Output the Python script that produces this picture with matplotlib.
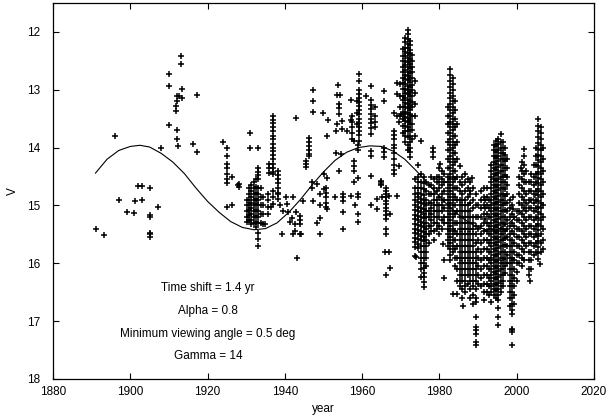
"""Light curve, V magnitude vs year, with the model curve drawn through it.
gnuplot-like look: inward ticks on all four sides, black '+' markers.
"""
import matplotlib
matplotlib.use("Agg")
import matplotlib.pyplot as plt

plt.rcParams.update({
    "font.family": ["Liberation Sans", "DejaVu Sans"],
    "font.size": 8.5,
    "axes.linewidth": 0.9,
    "xtick.direction": "in",
    "ytick.direction": "in",
    "xtick.top": True,
    "ytick.right": True,
    "xtick.major.size": 4,
    "ytick.major.size": 4,
})

# model curve
model_year = [1891, 1894, 1897, 1900, 1902.5, 1905, 1908, 1911, 1914, 1917,
              1920, 1923, 1926, 1929, 1932, 1935, 1938, 1941, 1944, 1947,
              1950, 1953, 1956, 1959, 1962, 1965, 1968, 1971, 1974, 1977,
              1980, 1983, 1986, 1989, 1992, 1995, 1998, 2001, 2004, 2006]
model_v = [14.44, 14.20, 14.05, 13.98, 13.96, 13.99, 14.10, 14.25, 14.45, 14.70,
           14.93, 15.12, 15.28, 15.38, 15.42, 15.40, 15.30, 15.12, 14.90, 14.65,
           14.42, 14.22, 14.08, 14.00, 13.97, 13.98, 14.06, 14.20, 14.40, 14.62,
           14.85, 15.05, 15.22, 15.35, 15.42, 15.42, 15.30, 15.12, 14.90, 14.75]

# isolated observations (year, V)
sparse_obs = [
    # 1890-1920
    (1891.0, 15.41), (1893.2, 15.51), (1896.0, 13.80), (1897.2, 14.91),
    (1899.2, 15.12), (1901.0, 15.13), (1901.1, 14.93), (1903.0, 14.91),
    (1901.9, 14.66), (1903.0, 14.66), (1905.0, 14.69), (1907.1, 15.02),
    (1905.0, 15.17), (1905.0, 15.20), (1905.0, 15.47), (1905.0, 15.50),
    (1905.0, 15.54), (1907.9, 14.00), (1910.1, 13.61), (1912.0, 13.70),
    (1912.0, 13.85), (1912.4, 13.98), (1910.1, 12.73), (1910.1, 12.94),
    (1913.0, 12.41), (1913.0, 12.55), (1913.3, 12.99), (1912.0, 13.10),
    (1912.6, 13.10), (1913.3, 13.14), (1912.0, 13.19), (1911.8, 13.28),
    (1911.8, 13.37), (1917.2, 13.09), (1916.1, 13.93), (1917.2, 14.07),
    # 1920-1945
    (1924.1, 13.91), (1926.2, 14.50), (1927.9, 14.65), (1928.1, 14.68),
    (1931.1, 13.74), (1931.1, 14.00), (1933.1, 14.00), (1924.9, 15.03),
    (1926.2, 14.99), (1928.2, 14.63), (1942.9, 13.48),
    (1935.7, 14.80), (1935.7, 14.90), (1935.7, 15.03), (1935.7, 15.15),
    (1934.9, 15.32), (1933.0, 15.47), (1933.0, 15.58), (1933.0, 15.70),
    (1938.3, 14.80), (1938.3, 14.89), (1940.3, 14.86), (1940.6, 14.98),
    (1942.2, 14.86), (1939.6, 15.09), (1940.9, 15.12), (1941.8, 15.21),
    (1943.0, 15.12), (1941.3, 15.29), (1942.6, 15.32), (1943.9, 15.32),
    (1942.6, 15.44), (1939.2, 15.49), (1942.2, 15.49), (1944.1, 15.49),
    (1943.1, 15.91), (1936.3, 15.03), (1936.9, 14.86), (1938.7, 15.00),
    (1937.0, 14.75), (1937.0, 14.98), (1930.1, 15.29), (1943.9, 15.18),
    (1943.9, 15.25), (1943.9, 15.50),
    # 1944-1970, upper
    (1947.3, 13.01), (1947.3, 13.19), (1947.3, 13.38), (1949.9, 13.41),
    (1951.2, 13.52), (1951.0, 13.80), (1953.8, 12.92), (1953.5, 13.09),
    (1954.2, 13.09), (1954.0, 13.25), (1954.0, 13.32), (1954.0, 13.42),
    (1953.6, 13.60), (1953.3, 13.71), (1954.9, 13.54), (1954.9, 13.68),
    (1956.2, 13.71), (1957.0, 13.18), (1957.0, 13.52), (1959.2, 12.72),
    (1959.2, 12.85), (1960.9, 13.10), (1962.2, 12.94), (1965.7, 13.03),
    (1965.7, 13.19), (1968.3, 13.40), (1969.0, 13.45), (1969.5, 13.55),
    (1970.0, 13.42), (1968.9, 13.08), (1968.9, 12.88), (1975.2, 13.88),
    (1957.9, 13.88), (1950.1, 14.45), (1951.0, 14.52), (1948.4, 14.63),
    (1950.2, 14.71), (1953.2, 14.09), (1954.4, 14.11), (1954.0, 14.40),
    (1957.9, 14.23), (1957.9, 14.32), (1957.9, 14.40), (1958.8, 14.52),
    (1962.2, 14.06), (1962.2, 14.14), (1962.2, 14.49), (1964.8, 14.57),
    (1964.8, 14.63), (1965.2, 14.86), (1965.7, 14.00), (1965.7, 14.08),
    (1965.7, 14.17), (1969.5, 14.32), (1958.8, 13.95), (1958.8, 14.05),
    # 1944-1970, lower
    (1946.9, 14.60), (1946.9, 14.70), (1949.1, 14.80), (1947.4, 14.92),
    (1944.8, 14.92), (1953.0, 14.86), (1955.0, 14.80), (1955.0, 14.86),
    (1955.0, 14.92), (1955.0, 15.11), (1955.0, 15.41), (1957.0, 14.83),
    (1959.0, 14.80), (1959.0, 14.86), (1958.2, 15.00), (1959.0, 15.15),
    (1959.0, 15.29), (1958.0, 14.60), (1962.4, 15.00), (1963.9, 14.89),
    (1963.9, 15.06), (1965.0, 14.60), (1965.0, 14.65), (1967.0, 14.83),
    (1969.1, 14.83), (1967.2, 15.15), (1966.2, 15.41), (1966.2, 15.50),
    (1966.0, 15.81), (1967.0, 15.81), (1967.2, 16.08), (1966.2, 16.20),
    (1948.2, 15.31), (1949.1, 15.21), (1949.1, 15.50), (1949.1, 15.00),
    (1950.8, 15.06),
    # 1970-2007, stragglers
    (1978.4, 14.00), (1978.4, 14.08), (1978.4, 14.17), (1980.2, 14.29),
    (1985.3, 14.32), (1987.9, 14.75), (1988.3, 14.52), (1970.7, 13.42),
    (1973.9, 15.89), (1981.0, 15.67), (1986.2, 16.73), (1991.8, 14.90),
    (1991.8, 15.05), (1991.8, 15.23), (1999.0, 14.86), (1999.0, 15.06),
    (2001.0, 14.35), (2003.5, 16.30), (2006.0, 16.01),
]

# dense observing runs: (year, V values down the column)
dense_strips = [
    # 1930s cluster
    (1924.9, "14.00 14.15 14.28 14.35 14.45 14.55 14.62"),
    (1930.1, "14.90 15.00 15.10 15.20"),
    (1930.7, "14.70 14.80 14.90 15.00 15.08 15.16 15.25"),
    (1931.3, "14.65 14.75 14.85 14.95 15.05 15.15 15.25 15.32"),
    (1931.9, "14.60 14.70 14.80 14.90 15.00 15.10 15.20 15.30"),
    (1932.5, "14.55 14.68 14.78 14.88 14.98 15.08 15.18 15.28 15.38"),
    (1933.1, "14.35 14.42 14.48 14.54 14.70 14.80 14.90 15.00 15.10 15.20 15.30"),
    (1933.7, "14.70 14.85 15.00 15.15 15.30"),
    (1934.4, "14.85 15.00 15.15 15.32"),
    (1935.8, "14.28 14.36 14.44"),
    (1936.8, "13.46 13.52 13.58 13.65 13.72 13.80 13.86 13.93 14.00 14.06 "
             "14.13 14.20 14.28 14.35 14.42 14.46"),
    (1938.2, "14.40 14.47 14.55 14.62 14.70 14.78"),
    # 1944-1970 columns
    (1945.5, "14.23 14.28 14.34"),
    (1946.3, "13.83 13.90 13.97 14.04 14.11 14.14"),
    (1950.6, "14.69 14.78 14.86 14.95 15.03"),
    (1957.5, "13.45 13.55 13.65 13.75 13.85"),
    (1959.2, "13.00 13.07 13.14 13.21 13.28 13.35 13.42 13.50 13.57 13.64 "
             "13.71 13.78 13.88"),
    (1958.7, "13.20 13.40 13.60"),
    (1962.2, "13.18 13.26 13.34 13.42 13.50 13.58 13.66 13.77"),
    (1963.4, "13.30 13.45 13.55 13.65"),
    (1966.2, "14.69 14.75 14.80 14.86 14.92 14.98 15.04 15.10 15.16 15.23"),
    (1968.3, "13.71 13.78 13.85 13.95 14.00 14.10 14.20 14.30 14.38 14.46"),
    # 1970-1973 outburst
    (1969.9, "12.90 13.10 13.30 13.45"),
    (1970.6, "12.30 12.42 12.50 12.61 12.70 12.80 12.88 12.99 13.10 13.18 "
             "13.30 13.41 13.50 13.62 13.75"),
    (1971.2, "12.10 12.18 12.27 12.34 12.42 12.51 12.58 12.66 12.75 12.82 "
             "12.90 12.99 13.06 13.14 13.23 13.30 13.38 13.47 13.54 13.62 "
             "13.71 13.80 13.90"),
    (1971.8, "11.96 12.04 12.12 12.21 12.28 12.36 12.45 12.52 12.60 12.69 "
             "12.76 12.84 12.93 13.00 13.08 13.17 13.24 13.32 13.41 13.48 "
             "13.56 13.65 13.72 13.82 13.95 14.05"),
    (1972.4, "12.15 12.23 12.32 12.39 12.47 12.56 12.63 12.71 12.80 12.87 "
             "12.95 13.04 13.11 13.19 13.28 13.35 13.43 13.52 13.60 13.70 "
             "13.80 13.90 14.00 14.08 14.17"),
    (1973.0, "12.40 12.50 12.61 12.70 12.80 12.91 13.00 13.10 13.21 13.30 "
             "13.45 13.60 13.70 13.85"),
    (1973.6, "12.85 13.05 13.25 13.45 13.80"),
    # 1973-1977
    (1973.8, "14.55 14.70 14.80 14.90 15.00 15.08 15.16 15.24 15.32 15.40 "
             "15.48 15.56 15.64 15.72 15.87"),
    (1974.5, "14.30 14.50 14.60 14.70 14.78 14.86 14.94 15.02 15.10 15.18 "
             "15.26 15.34 15.42 15.50 15.58 15.66 15.74"),
    (1975.2, "14.45 14.60 14.70 14.80 14.88 14.96 15.04 15.12 15.20 15.28 "
             "15.36 15.44 15.52 15.60 15.70 15.80 15.90 16.00 16.10 16.23"),
    (1975.9, "14.50 14.62 14.72 14.82 14.90 14.98 15.06 15.14 15.22 15.30 "
             "15.38 15.46 15.54 15.62 15.70 15.80 15.90 16.00 16.08 16.16 "
             "16.24 16.32 16.41"),
    (1976.6, "14.60 14.75 14.90 15.00 15.10 15.20 15.30 15.40 15.50 15.60 "
             "15.70 15.80 15.90 16.05"),
    (1977.2, "14.65 14.80 14.95 15.10 15.20 15.35 15.50 15.65"),
    # 1977-1981
    (1977.9, "14.50 14.65 14.80 14.95 15.05 15.15 15.25 15.35 15.45"),
    (1978.6, "14.55 14.70 14.80 14.90 15.00 15.10 15.20 15.30 15.45 15.60"),
    (1979.3, "14.50 14.60 14.75 14.90 15.00 15.10 15.20 15.30 15.40"),
    (1980.0, "14.35 14.50 14.60 14.70 14.85 15.00 15.10 15.20 15.35 15.50"),
    (1980.7, "14.40 14.55 14.65 14.80 14.90 15.00 15.10 15.25 15.40"),
    (1981.3, "14.45 14.60 14.75 14.90 15.05 15.20 15.30 15.95 16.25"),
    # 1982-1985 outburst
    (1982.2, "13.30 13.45 13.60 13.75 13.90 14.05 14.20 14.35 14.50 14.60 "
             "14.70 14.80 14.90 15.00 15.10 15.20 15.30 15.40 15.50 15.60 15.70"),
    (1982.8, "12.65 12.75 12.85 12.95 13.05 13.15 13.25 13.35 13.45 13.55 "
             "13.65 13.75 13.85 13.95 14.05 14.15 14.25 14.35 14.45 14.55 "
             "14.65 14.75 14.85 14.95 15.05 15.15 15.25 15.35 15.45 15.55 "
             "15.65 15.75 15.85 15.95"),
    (1983.4, "12.80 12.90 13.00 13.10 13.20 13.30 13.40 13.50 13.60 13.70 "
             "13.80 13.90 14.00 14.10 14.20 14.30 14.40 14.50 14.60 14.70 "
             "14.80 14.90 15.00 15.10 15.20 15.30 15.40 15.50 15.60 15.70 "
             "15.80 16.53"),
    (1984.0, "13.20 13.35 13.50 13.65 13.80 13.95 14.10 14.25 14.40 14.55 "
             "14.70 14.85 15.00 15.15 15.30 15.45 15.60 15.75 15.90 16.05"),
    (1984.6, "13.60 13.90 14.20 14.50 14.70 14.90 15.10 15.30 15.50 15.70 "
             "15.90 16.10 16.30 16.53"),
    # 1985-1990
    (1985.2, "14.60 14.75 14.90 15.00 15.10 15.20 15.30 15.40 15.50 15.60 "
             "15.70 15.80 15.90 16.00 16.10 16.20 16.30 16.40"),
    (1985.9, "14.50 14.65 14.80 14.90 15.00 15.10 15.20 15.30 15.40 15.50 "
             "15.60 15.70 15.80 15.90 16.00 16.10 16.20 16.30 16.45 16.60"),
    (1986.6, "14.45 14.60 14.75 14.90 15.00 15.10 15.20 15.30 15.40 15.50 "
             "15.60 15.70 15.80 15.90 16.00 16.10 16.20 16.30 16.40 16.50"),
    (1987.3, "14.55 14.70 14.85 15.00 15.10 15.20 15.30 15.40 15.50 15.60 "
             "15.70 15.80 15.90 16.00 16.10 16.20 16.35"),
    (1988.0, "14.60 14.80 14.95 15.10 15.20 15.30 15.40 15.50 15.60 15.70 "
             "15.80 15.90 16.00 16.10 16.20 16.30 16.45 16.60"),
    (1988.7, "14.70 14.90 15.05 15.20 15.30 15.40 15.50 15.60 15.70 15.80 "
             "15.90 16.00 16.10 16.20 16.30 16.40 16.55 16.70"),
    (1989.4, "14.80 15.00 15.20 15.35 15.50 15.65 15.80 15.90 16.00 16.10 "
             "16.20 16.30 16.45 16.60 16.67 16.93 17.10 17.16 17.22 17.36 17.42"),
    (1990.1, "15.00 15.20 15.40 15.60 15.75 15.90 16.05 16.20 16.35"),
    # 1990-1993
    (1990.8, "14.75 14.90 15.05 15.20 15.35 15.50 15.65 15.80 15.95 16.10 "
             "16.25 16.40"),
    (1991.5, "14.69 14.85 15.00 15.15 15.30 15.45 15.60 15.75 15.90 16.05 "
             "16.20 16.35 16.50 16.63"),
    (1992.2, "14.70 14.85 15.00 15.15 15.30 15.45 15.60 15.75 15.90 16.05 "
             "16.20 16.35 16.50"),
    (1992.8, "14.90 15.05 15.20 15.35 15.50 15.65 15.80 15.95 16.10 16.25 "
             "16.40 16.55"),
    # 1993-1998 outburst
    (1993.4, "14.30 14.40 14.50 14.60 14.70 14.80 14.90 15.00 15.10 15.20 "
             "15.30 15.40 15.50 15.60 15.70 15.80 15.90 16.00 16.10 16.20 "
             "16.30 16.40 16.50 16.67"),
    (1994.0, "13.95 14.05 14.15 14.25 14.35 14.45 14.55 14.65 14.75 14.85 "
             "14.95 15.05 15.15 15.25 15.35 15.45 15.55 15.65 15.75 15.85 "
             "15.95 16.05 16.15 16.25 16.35 16.45 16.55"),
    (1994.6, "13.88 13.98 14.08 14.18 14.28 14.38 14.48 14.58 14.68 14.78 "
             "14.88 14.98 15.08 15.18 15.28 15.38 15.48 15.58 15.68 15.78 "
             "15.88 15.98 16.08 16.18 16.28 16.38 16.48 16.60"),
    (1995.2, "13.86 13.94 14.04 14.14 14.24 14.34 14.44 14.54 14.64 14.74 "
             "14.84 14.94 15.04 15.14 15.24 15.34 15.44 15.54 15.64 15.74 "
             "15.84 15.94 16.04 16.14 16.24 16.34 16.44 16.54 16.64 16.78 "
             "16.93 17.07"),
    (1995.8, "13.77 13.90 14.00 14.10 14.20 14.30 14.40 14.50 14.60 14.70 "
             "14.80 14.90 15.00 15.10 15.20 15.30 15.40 15.50 15.60 15.70 "
             "15.80 15.90 16.00 16.10 16.20 16.30 16.40 16.50"),
    (1996.4, "13.90 14.00 14.10 14.20 14.30 14.40 14.50 14.60 14.70 14.80 "
             "14.90 15.00 15.10 15.20 15.30 15.40 15.50 15.60 15.70 15.80 "
             "15.90 16.00 16.10 16.20 16.30 16.40"),
    (1997.0, "14.00 14.12 14.24 14.36 14.48 14.60 14.72 14.84 14.96 15.08 "
             "15.20 15.32 15.44 15.56 15.68 15.80 15.92 16.04 16.16"),
    (1997.6, "14.20 14.35 14.50 14.65 14.80 14.95 15.10 15.25 15.40 15.55 "
             "15.70 15.85 16.00"),
    # 1998-2000
    (1998.2, "14.90 15.05 15.20 15.35 15.50 15.60 15.70 15.80 15.90 16.00 "
             "16.10 16.20 16.30 16.40 16.50 16.60 16.73"),
    (1998.8, "15.00 15.15 15.30 15.45 15.60 15.70 15.80 15.90 16.00 16.10 "
             "16.20 16.30 16.40 16.50 16.60 16.70 16.80 16.87 17.13 17.16 "
             "17.19 17.42"),
    (1999.4, "15.20 15.35 15.50 15.65 15.80 15.95 16.10 16.25 16.40 16.55 16.70"),
    (2000.0, "15.10 15.25 15.40 15.55 15.70 15.85 16.00 16.15 16.30"),
    # 2000-2003
    (2000.7, "14.50 14.65 14.80 14.95 15.10 15.25 15.40 15.55 15.70 15.85 16.00"),
    (2001.3, "14.25 14.40 14.55 14.70 14.85 15.00 15.15 15.30 15.45 15.60 "
             "15.75 15.90 16.05"),
    (2001.9, "14.03 14.14 14.30 14.45 14.60 14.75 14.90 15.05 15.20 15.35 "
             "15.50 15.65 15.80 15.95"),
    (2002.5, "14.40 14.60 14.80 14.95 15.10 15.25 15.40 15.55 15.70"),
    # 2003-2007
    (2003.2, "14.60 14.75 14.90 15.05 15.20 15.35 15.50 15.65 15.80 15.95 "
             "16.10 16.20"),
    (2003.8, "14.45 14.60 14.75 14.90 15.05 15.20 15.35 15.50 15.65 15.80 "
             "15.95 16.10"),
    (2004.4, "14.30 14.50 14.65 14.80 14.95 15.10 15.25 15.40 15.55 15.70 15.85"),
    (2005.0, "14.00 14.15 14.30 14.45 14.60 14.75 14.90 15.05 15.20 15.35 "
             "15.50 15.65 15.80"),
    (2005.6, "13.51 13.62 13.72 13.82 13.92 14.02 14.12 14.22 14.32 14.42 "
             "14.52 14.62 14.72 14.82 14.92 15.02 15.12 15.22 15.32 15.42 "
             "15.52 15.62 15.72 15.82 15.92"),
    (2006.2, "13.65 13.75 13.85 13.95 14.05 14.15 14.25 14.35 14.45 14.55 "
             "14.65 14.75 14.85 14.95 15.05 15.15 15.25 15.35 15.50 15.65 15.80"),
    (2006.8, "14.00 14.20 14.40 14.60 14.80 15.00 15.20 15.40 15.60 15.75"),
]

param_lines = ["Time shift = 1.4 yr", "Alpha = 0.8",
               "Minimum viewing angle = 0.5 deg", "Gamma = 14"]
param_v = [16.42, 16.82, 17.22, 17.60]

obs_year = [y for y, _ in sparse_obs]
obs_v = [v for _, v in sparse_obs]
for yr, col in dense_strips:
    for v in col.split():
        obs_year.append(yr)
        obs_v.append(float(v))

fig = plt.figure(figsize=(6.08, 4.19), dpi=100)
ax = fig.add_axes([0.0872, 0.0955, 0.8898, 0.8974])

ax.plot(model_year, model_v, color="black", linewidth=0.8, zorder=2)
ax.plot(obs_year, obs_v, linestyle="none", marker="+", markersize=5,
        markeredgewidth=1.1, color="black", zorder=3)

for txt, v in zip(param_lines, param_v):
    ax.text(1920.1, v, txt, ha="center", va="center", fontsize=8.5)

ax.set_xlim(1880, 2020)
ax.set_ylim(18, 11.5)
ax.set_xticks(range(1880, 2021, 20))
ax.set_yticks(range(12, 19))
ax.tick_params(axis="x", pad=5)
ax.tick_params(axis="y", pad=9)
ax.set_xlabel("year", labelpad=4)
ax.set_ylabel("V", labelpad=6)

fig.savefig("out.png", dpi=100, facecolor="white")
plt.close(fig)
